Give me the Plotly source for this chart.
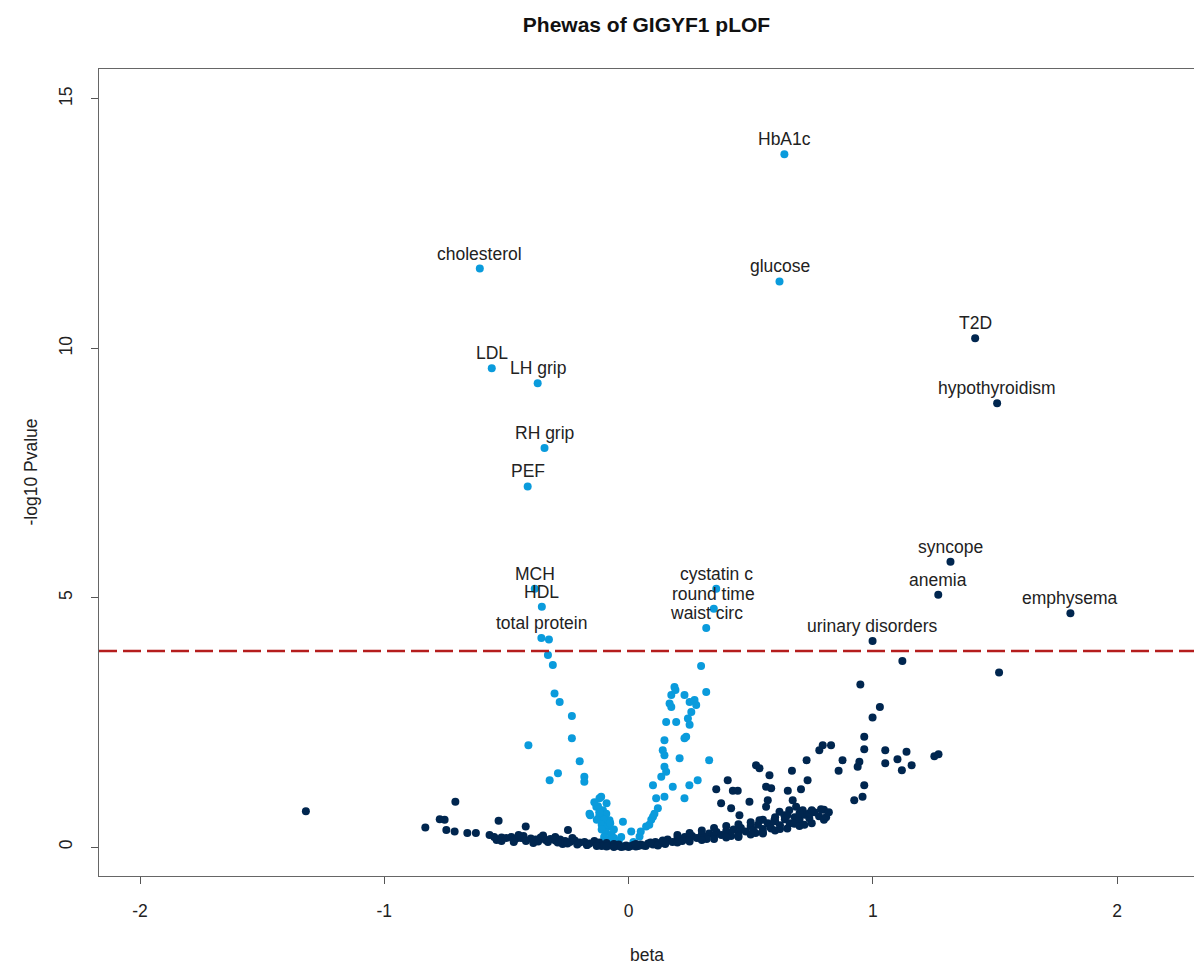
import plotly.graph_objects as go

# ---- labelled traits ----
label_names = ["HbA1c", "cholesterol", "glucose", "T2D", "LDL", "LH grip", "hypothyroidism",
               "RH grip", "PEF", "syncope", "MCH", "cystatin c", "HDL", "round time", "anemia",
               "emphysema", "waist circ", "urinary disorders", "total protein"]
label_beta = [0.638, -0.609, 0.618, 1.419, -0.560, -0.372, 1.509,
              -0.344, -0.413, 1.318, -0.384, 0.359, -0.355, 0.349, 1.268,
              1.809, 0.318, 0.999, -0.357]
label_logp = [13.89, 11.60, 11.34, 10.20, 9.60, 9.30, 8.90,
              8.00, 7.23, 5.72, 5.18, 5.18, 4.82, 4.78, 5.06,
              4.69, 4.39, 4.13, 4.19]
label_quant = [True, True, True, False, True, True, False,
               True, True, False, True, True, True, True, False,
               False, True, False, True]
label_text_beta = [0.638, -0.609, 0.618, 1.419, -0.560, -0.372, 1.509,
                   -0.344, -0.413, 1.318, -0.384, 0.359, -0.355, 0.349, 1.268,
                   1.809, 0.318, 0.999, -0.357]

# ---- quantitative traits (light blue) ----
quant_beta = [-0.326, -0.330, -0.310, -0.303, -0.282, -0.232, -0.232, -0.410, -0.200, -0.181,
              -0.181, -0.323, -0.289, -0.112, -0.160, -0.132, -0.105, -0.091, -0.078, -0.119,
              -0.125, -0.115, -0.120, -0.100, -0.090, -0.110, -0.085, -0.075, -0.095, -0.070,
              -0.060, -0.080, -0.023, 0.011, 0.045, -0.040, 0.020, -0.157,
              0.297, 0.188, 0.175, 0.168, 0.175, 0.229, 0.250, 0.270, 0.277, 0.318,
              0.257, 0.243, 0.250, 0.236, 0.229, 0.154, 0.195, 0.147, 0.140, 0.147,
              0.209, 0.330, 0.147, 0.154, 0.134, 0.100, 0.181, 0.249, 0.283, 0.113,
              0.147, 0.229, 0.120, 0.100, 0.093, 0.072, 0.085, 0.050, 0.192, 0.106,
              -0.140, -0.130, -0.110, -0.100, -0.050, -0.090, -0.120, -0.060, -0.030]
quant_logp = [4.16, 3.85, 3.65, 3.08, 2.91, 2.63, 2.18, 2.04, 1.72, 1.41,
              1.31, 1.34, 1.48, 1.01, 0.67, 0.81, 0.74, 0.67, 0.54, 0.98,
              0.82, 0.60, 0.62, 0.55, 0.45, 0.45, 0.40, 0.48, 0.30, 0.25,
              0.18, 0.15, 0.51, 0.31, 0.21, 0.12, 0.10, 0.64,
              3.63, 3.21, 3.05, 2.88, 2.81, 3.05, 2.91, 2.95, 2.85, 3.11,
              2.71, 2.58, 2.45, 2.21, 2.18, 2.51, 2.51, 2.14, 1.94, 1.84,
              1.78, 1.74, 1.61, 1.51, 1.41, 1.24, 1.21, 1.24, 1.34, 0.98,
              1.01, 0.98, 0.78, 0.61, 0.55, 0.41, 0.45, 0.31, 3.15, 0.67,
              0.90, 0.55, 0.35, 0.20, 0.10, 0.88, 0.70, 0.35, 0.20]

# ---- binary traits (dark navy) ----
binary_beta = [-1.321, -0.832, -0.773, -0.753, -0.709, -0.746, -0.712, -0.660, -0.625, -0.569,
               -0.532, -0.421, -0.248, -0.550, -0.520, -0.500, -0.480, -0.460, -0.440, -0.430,
               -0.400, -0.380, -0.360, -0.340, -0.320, -0.300, -0.280, -0.260, -0.240, -0.220,
               -0.200, -0.180, -0.160, -0.140, -0.130, -0.120, -0.100, -0.090, -0.080, -0.060,
               -0.050, -0.040, -0.020, -0.010, 0.000, 0.010, 0.020, 0.030, 0.050, 0.060,
               0.080, 0.100, 0.110, 0.130, 0.150, 0.160, 0.180, 0.200, 0.210, 0.230,
               0.250, 0.260, 0.280, 0.300, 0.310, 0.330, 0.350, 0.360, 0.380, 0.400,
               0.410, 0.430, 0.450, 0.460, 0.480, 0.500, 0.510, 0.530, 0.550, 0.570,
               0.580, 0.600, 0.620, 0.640, 0.660, 0.680, 0.700, 0.720, 0.740, 0.760,
               0.780, 0.800, 0.820, -0.170, -0.110, -0.030, 0.040, 0.120, 0.220, 0.320,
               0.420, 0.520, 0.620, 0.720, -0.470, -0.390, -0.270, -0.540, 0.450, 0.550,
               0.522, 0.536, 0.577, 0.584, 0.563, 0.406, 0.359, 0.427, 0.447, 0.495,
               0.379, 0.420, 0.570, 0.563, 0.454, 0.536, 0.672, 0.686, 0.713, 0.740,
               0.788, 0.809, 0.618, 0.638, 0.658, 0.597, 0.584, 0.679, 0.795, 0.829,
               0.781, 0.729, 0.669, 0.733, 0.706, 0.652, 0.876, 0.860, 0.945, 0.938,
               0.965, 0.958, 0.924, 0.965, 0.965, 0.999, 1.029, 0.949, 1.051, 1.138,
               1.101, 1.051, 1.119, 1.159, 1.252, 1.269, 1.121, 1.517,
               0.150, 0.200, 0.250, 0.300, 0.350, 0.400, 0.450, 0.500, 0.550, 0.600,
               0.650, 0.700, 0.750, 0.800, 0.200, 0.250, 0.300, 0.350, 0.400, 0.450,
               0.500, 0.550, 0.600, 0.650, 0.700, 0.750, -0.520, -0.470, -0.420, -0.370,
               -0.330, -0.290, -0.250, -0.210, -0.170, -0.130, -0.090, -0.060, -0.450, -0.350,
               -0.300, -0.230, 0.030, 0.070, 0.090, 0.120, 0.140]
binary_logp = [0.72, 0.39, 0.56, 0.55, 0.91, 0.34, 0.31, 0.28, 0.28, 0.24,
               0.53, 0.41, 0.34, 0.20, 0.19, 0.18, 0.20, 0.17, 0.18, 0.22,
               0.17, 0.15, 0.19, 0.14, 0.16, 0.13, 0.15, 0.12, 0.10, 0.13,
               0.09, 0.10, 0.07, 0.12, 0.05, 0.09, 0.04, 0.08, 0.03, 0.06,
               0.02, 0.05, 0.01, 0.03, 0.00, 0.02, 0.04, 0.01, 0.05, 0.03,
               0.07, 0.05, 0.10, 0.08, 0.12, 0.15, 0.10, 0.17, 0.13, 0.20,
               0.16, 0.22, 0.18, 0.25, 0.20, 0.27, 0.22, 0.30, 0.24, 0.32,
               0.27, 0.35, 0.28, 0.38, 0.31, 0.42, 0.34, 0.45, 0.36, 0.48,
               0.40, 0.52, 0.44, 0.56, 0.48, 0.60, 0.55, 0.65, 0.58, 0.70,
               0.62, 0.75, 0.70, 0.04, 0.02, 0.00, 0.02, 0.04, 0.12, 0.16,
               0.22, 0.28, 0.36, 0.45, 0.10, 0.08, 0.06, 0.14, 0.20, 0.27,
               1.64, 1.58, 1.44, 1.18, 1.21, 1.34, 1.16, 1.13, 1.13, 0.91,
               0.88, 0.78, 0.94, 0.81, 0.64, 0.54, 0.94, 0.81, 0.74, 0.68,
               0.76, 0.60, 0.71, 0.64, 0.74, 0.54, 0.37, 0.47, 2.04, 2.04,
               1.94, 1.74, 1.53, 1.34, 1.16, 1.13, 1.74, 1.53, 1.71, 1.61,
               1.24, 1.01, 0.94, 2.21, 1.96, 2.60, 2.81, 3.26, 1.94, 1.91,
               1.76, 1.68, 1.54, 1.64, 1.82, 1.86, 3.73, 3.50,
               0.06, 0.09, 0.11, 0.14, 0.16, 0.19, 0.22, 0.25, 0.29, 0.33,
               0.37, 0.42, 0.48, 0.55, 0.24, 0.28, 0.33, 0.38, 0.42, 0.46,
               0.50, 0.55, 0.60, 0.64, 0.68, 0.74, 0.12, 0.13, 0.12, 0.11,
               0.10, 0.09, 0.07, 0.05, 0.04, 0.02, 0.01, 0.00, 0.24, 0.23,
               0.20, 0.18, 0.06, 0.02, 0.09, 0.03, 0.13]

threshold = 3.93
x_ticks = [-2, -1, 0, 1, 2]
y_ticks = [0, 5, 10, 15]

LIGHT = "#0A9BDC"
NAVY = "#00264F"
FONT = "Liberation Sans, Arial, Helvetica, sans-serif"
FS = 17.5

fig = go.Figure()

lq_b = [b for b, q in zip(label_beta, label_quant) if q]
lq_p = [p for p, q in zip(label_logp, label_quant) if q]
lb_b = [b for b, q in zip(label_beta, label_quant) if not q]
lb_p = [p for p, q in zip(label_logp, label_quant) if not q]

fig.add_trace(go.Scatter(x=quant_beta + lq_b, y=quant_logp + lq_p, mode="markers",
                         marker=dict(color=LIGHT, size=8, line=dict(width=0)),
                         showlegend=False, hoverinfo="x+y"))
fig.add_trace(go.Scatter(x=binary_beta + lb_b, y=binary_logp + lb_p, mode="markers",
                         marker=dict(color=NAVY, size=8, line=dict(width=0)),
                         showlegend=False, hoverinfo="x+y"))

fig.add_shape(type="line", xref="paper", x0=0, x1=1, yref="y", y0=threshold, y1=threshold,
              line=dict(color="#B51D1D", width=2.5, dash="18px,6px"))

annotations = []
for name, bx, by in zip(label_names, label_text_beta, label_logp):
    annotations.append(dict(x=bx, y=by, text=name, showarrow=False, yshift=15,
                            xanchor="center", yanchor="middle",
                            font=dict(family=FONT, size=FS, color="#222222")))

annotations.append(dict(x=0.5, y=-0.098, xref="paper", yref="paper", text="beta",
                        showarrow=False, xanchor="center", yanchor="middle",
                        font=dict(family=FONT, size=FS, color="#222222")))
annotations.append(dict(x=-0.063, y=0.5, xref="paper", yref="paper", text="-log10 Pvalue",
                        showarrow=False, xanchor="center", yanchor="middle", textangle=-90,
                        font=dict(family=FONT, size=FS, color="#222222")))

fig.update_layout(
    width=1194, height=965,
    margin=dict(l=99, r=0, t=69, b=89),
    paper_bgcolor="white", plot_bgcolor="white",
    title=dict(text="<b>Phewas of GIGYF1 pLOF</b>", x=0.5, xref="paper", y=1 - 25 / 965,
               yanchor="middle", xanchor="center",
               font=dict(family=FONT, size=21, color="#111111")),
    annotations=annotations,
    xaxis=dict(range=[-2.168, 2.315], tickvals=x_ticks, ticktext=[str(v) for v in x_ticks],
               showgrid=False, zeroline=False, showline=True, linecolor="#666666", linewidth=1,
               mirror=True, ticks="outside", ticklen=7, tickcolor="#555555",
               ticklabelstandoff=12,
               tickfont=dict(family=FONT, size=FS, color="#222222")),
    yaxis=dict(range=[-0.58, 15.60], tickvals=y_ticks, ticktext=[str(v) for v in y_ticks],
               showgrid=False, zeroline=False, showline=True, linecolor="#666666", linewidth=1,
               mirror=False, ticks="outside", ticklen=7, tickcolor="#555555", tickangle=-90,
               ticklabelstandoff=12,
               tickfont=dict(family=FONT, size=FS, color="#222222")),
)

fig.write_html("out.html")
